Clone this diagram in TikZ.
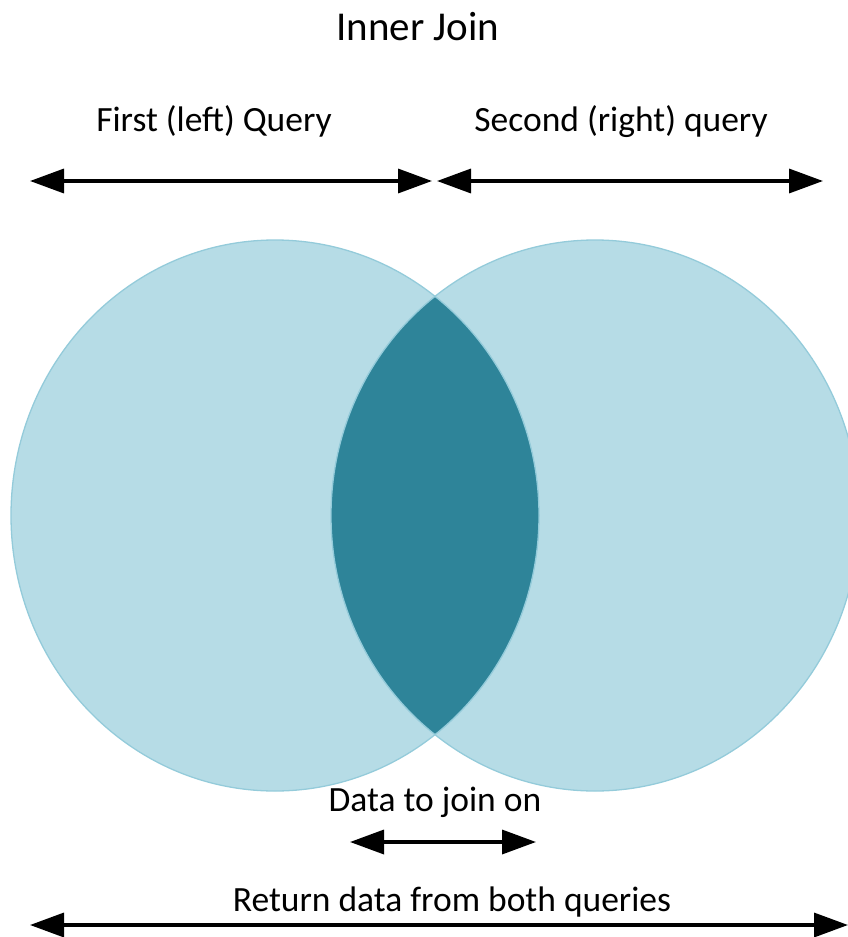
\documentclass[tikz,border=0pt]{standalone}
\usepackage{fontspec}
\setmainfont{Carlito}
\usetikzlibrary{arrows.meta}
\definecolor{lightfill}{HTML}{B6DCE6}
\definecolor{edgeblue}{HTML}{94CBDA}
\definecolor{lensfill}{HTML}{2E8499}
\tikzset{
  titletext/.style={font=\fontsize{41}{49}\selectfont, anchor=base, inner sep=0pt},
  labeltext/.style={font=\fontsize{35.5}{42}\selectfont, anchor=base, inner sep=0pt},
  dblarrow/.style={line width=3.5pt, {Triangle[length=34pt,width=24pt]}-{Triangle[length=34pt,width=24pt]}},
  setfill/.style={fill=lightfill},
  setedge/.style={draw=edgeblue, line width=1.3pt}
}
\begin{document}
\begin{tikzpicture}[x=1pt,y=-1pt]
\useasboundingbox (0,0) rectangle (848,937);
% sets
\fill[setfill] (275,515.5) ellipse [x radius=264, y radius=275.5];
\fill[setfill] (595,515.5) ellipse [x radius=264, y radius=275.5];
\begin{scope}
  \clip (275,515.5) ellipse [x radius=264, y radius=275.5];
  \fill[lensfill] (595,515.5) ellipse [x radius=264, y radius=275.5];
\end{scope}
\draw[setedge] (275,515.5) ellipse [x radius=264, y radius=275.5];
\draw[setedge] (595,515.5) ellipse [x radius=264, y radius=275.5];
% texts
\node[titletext] (title) at (418,40) {Inner Join};
\node[labeltext] (first) at (214,131) {First (left) Query};
\node[labeltext] (second) at (621,131) {Second (right) query};
\node[labeltext] (data) at (435,811) {Data to join on};
\node[labeltext] (ret) at (452,911) {Return data from both queries};
% arrow endpoints
\coordinate (l1) at (30,181);
\coordinate (l2) at (432,181);
\coordinate (r1) at (437,181);
\coordinate (r2) at (823,181);
\coordinate (d1) at (350,842);
\coordinate (d2) at (536,842);
\coordinate (b1) at (30,925);
\coordinate (b2) at (848,925);
\draw[dblarrow] (l1) -- (l2);
\draw[dblarrow] (r1) -- (r2);
\draw[dblarrow] (d1) -- (d2);
\draw[dblarrow] (b1) -- (b2);
\end{tikzpicture}
\end{document}
